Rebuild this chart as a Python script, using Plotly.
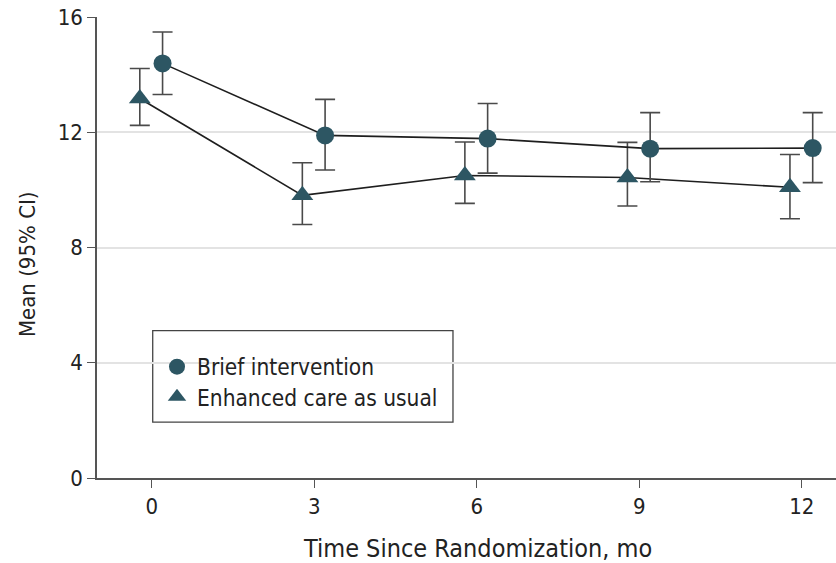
import plotly.graph_objects as go

months = [0, 3, 6, 9, 12]
brief_offset = 0.2
ecau_offset = -0.22

brief_mean = [14.39, 11.89, 11.78, 11.43, 11.45]
brief_upper = [15.48, 13.14, 13.00, 12.68, 12.68]
brief_lower = [13.31, 10.69, 10.58, 10.28, 10.25]

ecau_mean = [13.17, 9.81, 10.50, 10.43, 10.09]
ecau_upper = [14.21, 10.94, 11.66, 11.65, 11.23]
ecau_lower = [12.24, 8.80, 9.53, 9.44, 9.00]

y_ticks = [0, 4, 8, 12, 16]
x_ticks = [0, 3, 6, 9, 12]

FONT = "DejaVu Sans Condensed, Liberation Sans Narrow, sans-serif"
MARKER_COLOR = "#2d5663"
LINE_COLOR = "#1e1e1e"
ERR_COLOR = "#4a4a4a"
TEXT_COLOR = "#222222"

def err(mean, up, lo):
    return dict(
        type="data", symmetric=False,
        array=[u - m for u, m in zip(up, mean)],
        arrayminus=[m - l for m, l in zip(mean, lo)],
        color=ERR_COLOR, thickness=1.6, width=10,
    )

fig = go.Figure()
fig.add_trace(go.Scatter(
    x=[m + ecau_offset for m in months], y=ecau_mean,
    mode="lines+markers", showlegend=False, hoverinfo="skip",
    line=dict(color=LINE_COLOR, width=1.6),
    marker=dict(symbol="triangle-up", size=19, color=MARKER_COLOR),
    error_y=err(ecau_mean, ecau_upper, ecau_lower),
))
fig.add_trace(go.Scatter(
    x=[m + brief_offset for m in months], y=brief_mean,
    mode="lines+markers", showlegend=False, hoverinfo="skip",
    line=dict(color=LINE_COLOR, width=1.6),
    marker=dict(symbol="circle", size=18, color=MARKER_COLOR),
    error_y=err(brief_mean, brief_upper, brief_lower),
))
# legend-only entries (marker only), one legend each for exact placement
fig.add_trace(go.Scatter(
    x=[None], y=[None], mode="markers", name="Brief intervention", legend="legend",
    marker=dict(symbol="circle", size=17, color=MARKER_COLOR),
))
fig.add_trace(go.Scatter(
    x=[None], y=[None], mode="markers", name="Enhanced care as usual", legend="legend2",
    marker=dict(symbol="triangle-up", size=19, color=MARKER_COLOR),
))

legend_common = dict(
    xanchor="left", yanchor="middle", borderwidth=0, bgcolor="rgba(0,0,0,0)",
    font=dict(size=22.5, family=FONT, color=TEXT_COLOR), itemsizing="trace",
)

fig.update_layout(
    width=836, height=563,
    margin=dict(l=97, r=0, t=17, b=85, pad=0),
    paper_bgcolor="white", plot_bgcolor="white",
    font=dict(family=FONT, size=20, color=TEXT_COLOR),
    legend=dict(x=0.0812, y=0.2406, **legend_common),
    legend2=dict(x=0.0812, y=0.1755, **legend_common),
    shapes=[dict(
        type="rect", xref="paper", yref="paper",
        x0=0.0754, x1=0.4817, y0=0.1212, y1=0.3197,
        line=dict(color="#444444", width=1.3), fillcolor="white", layer="below",
    )],
    annotations=[
        dict(text="Mean (95% CI)", xref="paper", yref="paper", x=-0.094, y=0.463,
             textangle=-90, showarrow=False, font=dict(size=22, family=FONT, color=TEXT_COLOR),
             xanchor="center", yanchor="middle"),
        dict(text="Time Since Randomization, mo", xref="paper", yref="paper", x=0.515, y=-0.152,
             showarrow=False, font=dict(size=25, family=FONT, color=TEXT_COLOR),
             xanchor="center", yanchor="middle"),
    ],
    xaxis=dict(
        range=[-1.01, 12.63], tickvals=x_ticks, ticktext=[str(t) for t in x_ticks],
        showgrid=False, zeroline=False, automargin=False,
        showline=True, linecolor="#555555", linewidth=1.5,
        ticks="outside", ticklen=8, tickcolor="#555555", tickwidth=1.2,
        tickfont=dict(size=22), ticklabeloverflow="allow",
    ),
    yaxis=dict(
        range=[0, 16], tickvals=y_ticks, ticktext=[str(t) for t in y_ticks],
        showgrid=True, gridcolor="#e3e3e3", gridwidth=1.5, zeroline=False, automargin=False,
        showline=True, linecolor="#555555", linewidth=1.5,
        ticks="outside", ticklen=8, tickcolor="#555555", tickwidth=1.2,
        tickfont=dict(size=22), ticklabeloverflow="allow",
    ),
)

fig.write_html(
    "out.html",
    config={"displayModeBar": False},
    post_script="document.body.style.margin='0';document.body.style.overflow='hidden';",
)
